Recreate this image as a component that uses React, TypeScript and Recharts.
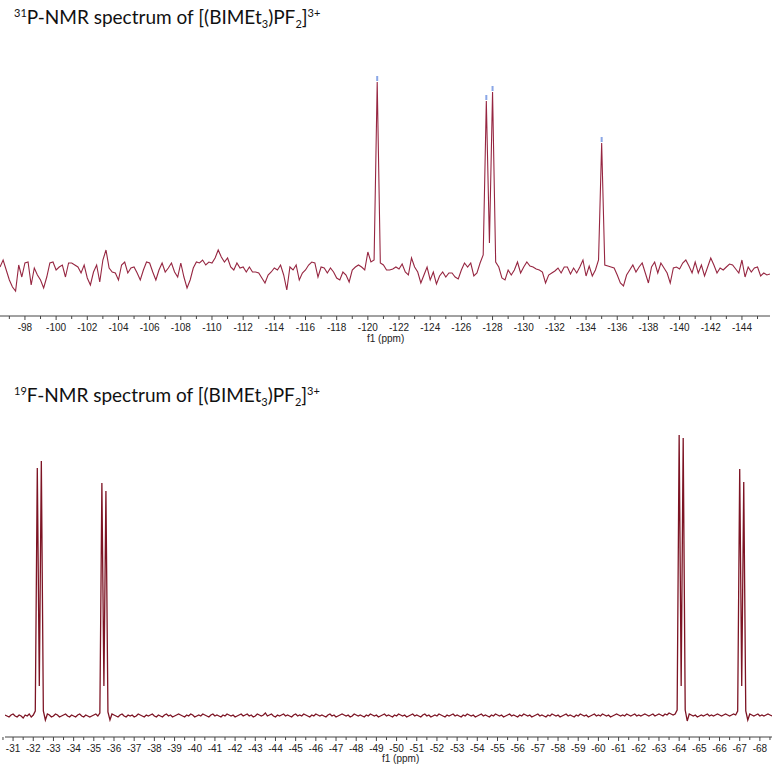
import React from "react";
import { ComposedChart, Line, Scatter, XAxis, YAxis } from "recharts";

// 31P spectrum: intensities on a 0.2 ppm grid starting at -96.4 ppm
const pStart = -96.4;
const pStep = 0.2;
const pIntensity = [
  3, 10, 0, -10, -17, -21, 5, -7, 7, 8, -15,
  2, -5, -10, -18, -7, 7, 8, 0, 3, 5,
  -7, 7, 7, 5, 3, -3, 5, -8, -15, -2,
  5, -12, 10, 20, 2, -2, -3, -10, 5, 8,
  -3, 2, 3, -3, -10, 0, 8, 7, -2, -10,
  0, 7, -2, 2, 7, -2, -7, 7, -7, -18,
  -10, 2, 8, 7, 10, 5, 8, 7, 12, 20,
  13, 8, 12, 3, 0, 7, 2, 3, -2, 3,
  -2, -2, -3, -8, -13, -5, -2, 2, 0, 5,
  -5, -20, 3, 0, 5, -10, -3, 0, 5, 8,
  7, -7, 3, 2, -3, 2, -2, -8, -10, -2,
  -5, -12, 0, 3, 5, 3, 0, 18, 8, 10,
  188, 7, 5, 0, 0, 1, 3, 1, 6, -2,
  -5, 12, 3, -2, -13, -5, 3, -10, -2, -14,
  -6, -2, -7, -3, -3, -7, -9, 0, 7, 3,
  7, -6, -3, 7, 15, 169, 27, 178, 8, 3,
  -8, -10, 0, -5, 0, 8, -3, 3, 8, 4,
  3, 1, 0, -2, -13, -5, -3, -1, 2, -3,
  3, 3, -4, 2, -3, 3, 10, -6, 4, -6,
  0, 10, 127, 5, 4, 3, 2, -5, -13, -16,
  -5, 0, 5, -2, 3, 7, -3, -13, 3, 8,
  -3, 7, 2, -3, -13, 2, 3, 1, 7, 10,
  4, -3, 8, -3, 5, -6, 3, 12, 5, -3,
  2, 0, 3, 6, 5, 1, -3, 10, -7, 3,
  -2, 2, 3, -6, -3, -5, -4,
];
const pPeakPpm = [-120.6, -127.6, -128.0, -135.0];
const pPeakTop = [188, 169, 178, 127];
const pTickLabels = [
  -98, -100, -102, -104, -106, -108, -110, -112, -114, -116, -118, -120,
  -122, -124, -126, -128, -130, -132, -134, -136, -138, -140, -142, -144,
];

// 19F spectrum: intensities on a 0.1 ppm grid starting at -30.6 ppm
const fStart = -30.6;
const fStep = 0.1;
const fIntensity = [
  1, 0, -1, 1, 2, 0, -1, 1, 0, -2, 1, 0, 2, -1, 1, 5, 248, 30, 255, 5,
  -4, 2, 1, -1, 0, 2, 1, -1, 0, 1, 2, 0, -1, 1, 0, -1, 1, 2, 0, -1,
  1, 0, -1, 0, 1, 2, 0, 3, 233, 30, 225, 4, -4, 2, 1, 0, -1, 1, 2, 0,
  -1, 1, 0, 1, -1, 0, 2, 1, 0, -1, 1, 0, 1, 2, 0, -1, 1, 0, -1, 1,
  2, 0, 1, -1, 0, 1, 2, 1, 0, -1, 1, 0, 2, 1, -1, 0, 1, 0, 2, 1,
  0, -1, 1, 2, 0, 1, 0, -1, 1, 0, 2, 1, 0, 1, -1, 0, 1, 2, 0, 1,
  2, 0, 1, -1, 0, 2, 1, 0, 1, 3, 0, 1, 2, 0, -1, 1, 0, 1, 2, 0,
  1, 0, -1, 1, 2, 0, 1, 0, 2, 1, 0, -1, 1, 0, 2, 1, 0, 1, 0, -1,
  1, 2, 0, 1, -1, 0, 1, 2, 1, 0, 1, -1, 0, 2, 1, 0, 1, 0, -1, 1,
  0, 2, 1, 0, 1, -1, 0, 1, 2, 0, 1, 0, -1, 1, 0, 2, 1, 0, 1, -1,
  0, 1, 2, 0, 1, 0, -1, 1, 2, 0, 1, -1, 0, 1, 0, 2, 1, 0, -1, 1,
  0, 1, 2, 0, 1, 0, -1, 1, 0, 2, 1, 0, 1, -1, 0, 1, 2, 0, 1, 0,
  -1, 1, 0, 2, 1, 0, 1, -1, 0, 1, 2, 0, 1, 0, -1, 1, 0, 2, 1, 0,
  1, -1, 0, 1, 2, 0, 1, 0, -1, 1, 0, 2, 1, 0, 1, -1, 0, 1, 2, 0,
  1, 0, -1, 1, 0, 2, 1, 0, 1, -1, 0, 1, 2, 0, 1, 0, 2, 1, 0, 1,
  -1, 0, 1, 2, 1, 0, 1, 0, 2, 1, 0, 1, 2, 0, 1, 0, 1, 2, 1, 0,
  1, 2, 0, 1, 2, 1, 0, 2, 1, 3, 2, 1, 2, 6, 281, 30, 278, 6, -5, 2,
  1, 0, 1, -1, 0, 1, 0, 1, 2, 0, 1, 0, 1, 2, 1, 0, 1, 2, 1, 0,
  1, 2, 1, 5, 247, 30, 234, 5, -4, 2, 1, 0, 1, 2, 0, 1, 0, 1, 2, 1,
  0,
];
const fTickLabels = [
  -31, -32, -33, -34, -35, -36, -37, -38, -39, -40, -41, -42, -43, -44, -45,
  -46, -47, -48, -49, -50, -51, -52, -53, -54, -55, -56, -57, -58, -59, -60,
  -61, -62, -63, -64, -65, -66, -67, -68,
];

const pData = pIntensity.map((v, i) => ({ ppm: +(pStart - pStep * i).toFixed(2), v }));
const fData = fIntensity.map((v, i) => ({ ppm: +(fStart - fStep * i).toFixed(2), v }));
const pPeaks = pPeakPpm.map((ppm, i) => ({ ppm, v: pPeakTop[i] }));

// major ticks carry a label, minor ticks sit halfway between them
function withMinor(labels: number[], gap: number) {
  const all: number[] = [];
  labels.forEach((t) => {
    all.push(t);
    all.push(+(t - gap / 2).toFixed(2));
  });
  all.push(+(labels[0] + gap / 2).toFixed(2));
  return all.sort((a, b) => b - a);
}

const tickFont = "'Liberation Sans', Arial, sans-serif";

function makeTick(labels: number[]) {
  const major = new Set(labels);
  return (props: any) => {
    const { x, y, payload } = props;
    const isMajor = major.has(payload.value);
    return (
      <g>
        <line x1={x} x2={x} y1={y} y2={y + (isMajor ? 4 : 3)} stroke="#444" />
        {isMajor && (
          <text
            x={x}
            y={y + 15}
            textAnchor="middle"
            fontSize={10}
            fill="#222"
            style={{ fontFamily: tickFont }}
          >
            {payload.value}
          </text>
        )}
      </g>
    );
  };
}

const PeakMark = (props: any) => {
  const { cx, cy } = props;
  return <rect x={cx - 1} y={cy - 6} width={2} height={5} fill="#8aa6e6" />;
};

const titleStyle: React.CSSProperties = {
  position: "absolute",
  left: 14,
  fontFamily: "Lato, 'Open Sans', sans-serif",
  fontSize: 19,
  color: "#111",
  whiteSpace: "nowrap",
  lineHeight: "22px",
};
const supStyle: React.CSSProperties = { fontSize: 11, verticalAlign: 7 };
const subStyle: React.CSSProperties = { fontSize: 11, verticalAlign: -4 };
const unitStyle: React.CSSProperties = {
  position: "absolute",
  fontFamily: tickFont,
  fontSize: 10,
  lineHeight: "10px",
  color: "#222",
  whiteSpace: "nowrap",
};

export default function App() {
  return (
    <div style={{ position: "absolute", left: 0, top: 0, width: 774, height: 764, background: "#fff" }}>
      <div style={{ ...titleStyle, top: 2 }}>
        <sup style={supStyle}>31</sup>P-NMR spectrum of [(BIMEt<sub style={subStyle}>3</sub>)PF
        <sub style={subStyle}>2</sub>]<sup style={supStyle}>3+</sup>
      </div>

      <div style={{ position: "absolute", left: 0, top: 0 }}>
        <ComposedChart width={774} height={345} data={pData} margin={{ top: 60, right: 4, bottom: 0, left: 0 }}>
          <XAxis
            dataKey="ppm"
            type="number"
            domain={[-145.8, -96.4]}
            reversed
            allowDataOverflow
            ticks={withMinor(pTickLabels, 2)}
            interval={0}
            height={29}
            tickSize={0}
            tickMargin={0}
            tickLine={false}
            axisLine={{ stroke: "#444" }}
            tick={makeTick(pTickLabels)}
          />
          <YAxis hide domain={[-46, 210]} allowDataOverflow />
          <Line
            dataKey="v"
            type="linear"
            stroke="#962641"
            strokeWidth={1.1}
            dot={false}
            isAnimationActive={false}
          />
          <Scatter data={pPeaks} dataKey="v" shape={PeakMark} isAnimationActive={false} />
        </ComposedChart>
      </div>
      <div style={{ ...unitStyle, left: 367, top: 334 }}>f1 (ppm)</div>

      <div style={{ ...titleStyle, top: 380 }}>
        <sup style={supStyle}>19</sup>F-NMR spectrum of [(BIMEt<sub style={subStyle}>3</sub>)PF
        <sub style={subStyle}>2</sub>]<sup style={supStyle}>3+</sup>
      </div>

      <div style={{ position: "absolute", left: 0, top: 400 }}>
        <ComposedChart width={774} height={364} data={fData} margin={{ top: 20, right: 2, bottom: 0, left: 5 }}>
          <XAxis
            dataKey="ppm"
            type="number"
            domain={[-68.6, -30.6]}
            reversed
            allowDataOverflow
            ticks={withMinor(fTickLabels, 1)}
            interval={0}
            height={27}
            tickSize={0}
            tickMargin={0}
            tickLine={false}
            axisLine={{ stroke: "#444" }}
            tick={makeTick(fTickLabels)}
          />
          <YAxis hide domain={[-21, 296]} allowDataOverflow />
          <Line
            dataKey="v"
            type="linear"
            stroke="#7d1424"
            strokeWidth={1.3}
            dot={false}
            isAnimationActive={false}
          />
        </ComposedChart>
      </div>
      <div style={{ ...unitStyle, left: 382, top: 754 }}>f1 (ppm)</div>
    </div>
  );
}
